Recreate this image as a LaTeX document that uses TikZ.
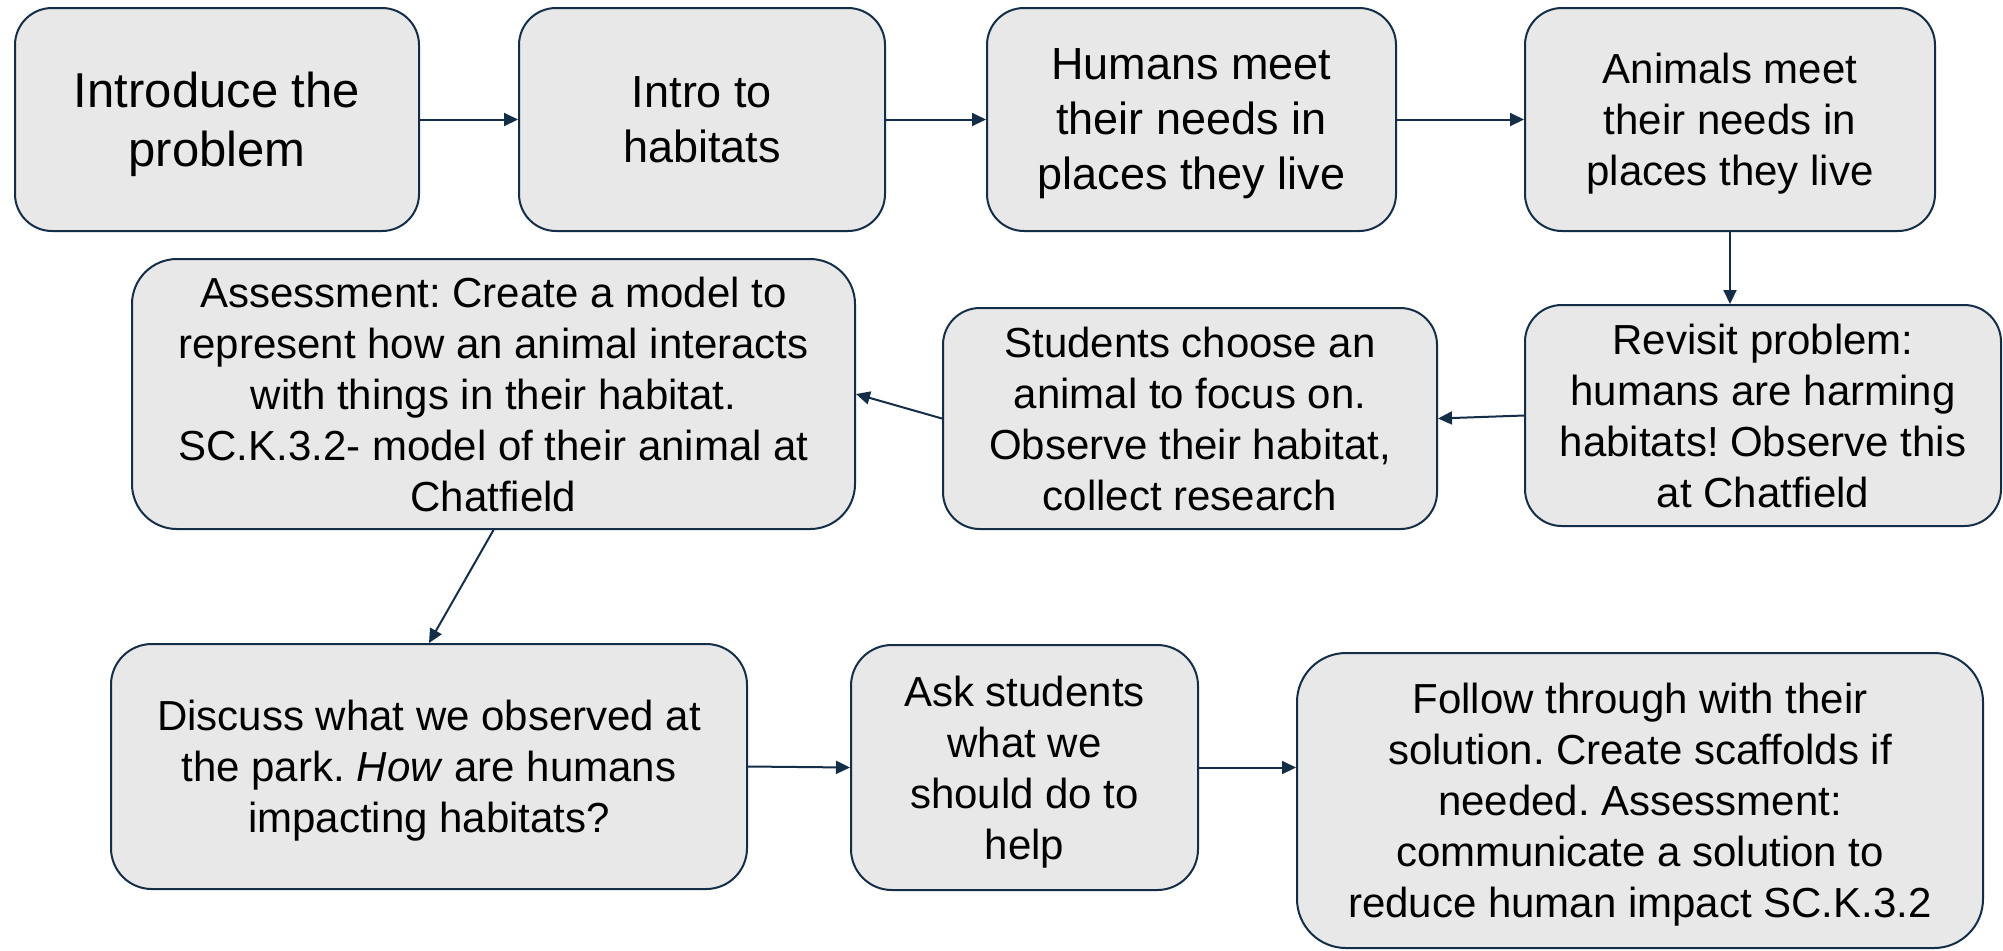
\documentclass[tikz,border=0pt]{standalone}
\usepackage{fontspec}
\setmainfont{Liberation Sans}
\usetikzlibrary{arrows.meta}
\frenchspacing
\definecolor{edge}{HTML}{152E48}
\definecolor{boxfill}{HTML}{E8E8E8}
\tikzset{
  stepbox/.style={draw=edge, line width=1pt, fill=boxfill, align=center,
    inner sep=0pt, text depth=0pt, text=black},
  flow/.style={draw=edge, line width=1pt, -{Triangle[length=7pt,width=6.5pt]}},
  bigtxt/.style={font=\fontsize{24.5}{29.5}\selectfont},
  midtxt/.style={font=\fontsize{22.5}{27.5}\selectfont},
  smalltxt/.style={font=\fontsize{21}{25.5}\selectfont},
}
\begin{document}
\begin{tikzpicture}[x=0.5pt, y=-0.5pt]
\useasboundingbox[fill=white] (0,0) rectangle (2003,950);

% top row
\node[stepbox, bigtxt, minimum width=202pt, minimum height=111.5pt, rounded corners=18.5pt]
  (b1) at (217,119.5) {Introduce the\\problem};
\node[stepbox, midtxt, minimum width=183pt, minimum height=111.5pt, rounded corners=18.5pt]
  (b2) at (702,119.5) {Intro to\\habitats};
\node[stepbox, midtxt, minimum width=204.5pt, minimum height=111.5pt, rounded corners=18.5pt]
  (b3) at (1191.5,119.5) {Humans meet\\their needs in\\places they live};
\node[stepbox, smalltxt, minimum width=205pt, minimum height=111.5pt, rounded corners=18.5pt]
  (b4) at (1730,119.5) {Animals meet\\their needs in\\places they live};

% middle row
\node[stepbox, smalltxt, minimum width=361.5pt, minimum height=135pt, rounded corners=22.5pt]
  (b5) at (493.5,394) {Assessment: Create a model to\\represent how an animal interacts\\with things in their habitat.\\SC.K.3.2- model of their animal at\\Chatfield};
\node[stepbox, smalltxt, minimum width=247pt, minimum height=110.5pt, rounded corners=18.4pt]
  (b6) at (1190,418.5) {Students choose an\\animal to focus on.\\Observe their habitat,\\collect research};
\node[stepbox, smalltxt, minimum width=238pt, minimum height=110.5pt, rounded corners=18.4pt]
  (b7) at (1763,415.5) {Revisit problem:\\humans are harming\\habitats! Observe this\\at Chatfield};

% bottom row
\node[stepbox, smalltxt, minimum width=318pt, minimum height=122.5pt, rounded corners=20.4pt]
  (b8) at (429,766.5) {Discuss what we observed at\\the park. \textit{How} are humans\\impacting habitats?};
\node[stepbox, smalltxt, minimum width=173.5pt, minimum height=122.5pt, rounded corners=20.4pt]
  (b9) at (1024.5,767.5) {Ask students\\what we\\should do to\\help};
\node[stepbox, smalltxt, minimum width=343pt, minimum height=147.5pt, rounded corners=24.5pt]
  (b10) at (1640,800.5) {Follow through with their\\solution. Create scaffolds if\\needed. Assessment:\\communicate a solution to\\reduce human impact SC.K.3.2};

% connectors
\draw[flow] (b1.east) -- (b2.west);
\draw[flow] (b2.east) -- (b3.west);
\draw[flow] (b3.east) -- (b4.west);
\draw[flow] (b4.south) -- (b4.south |- b7.north);
\draw[flow] (b7.west) -- (b6.east);
\draw[flow] (b6.west) -- (b5.east);
\draw[flow] (b5.south) -- (b8.north);
\draw[flow] (b8.east) -- (b9.west);
\draw[flow] (b9.east) -- (b9.east -| b10.west);
\end{tikzpicture}
\end{document}
